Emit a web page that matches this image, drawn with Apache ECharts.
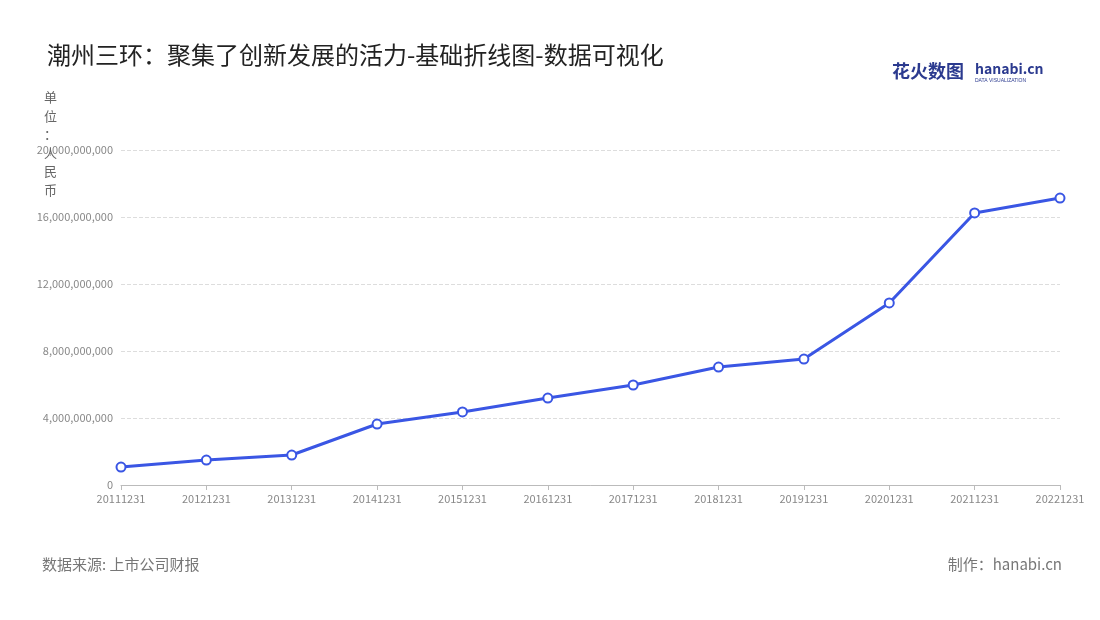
<!DOCTYPE html>
<html>
<head>
<meta charset="utf-8">
<script src="https://cdn.jsdelivr.net/npm/echarts@6/dist/echarts.min.js"></script>
<style>
html,body{margin:0;padding:0;background:#fff;}
#main{width:1100px;height:620px;}
</style>
</head>
<body>
<div id="main"></div>
<script>
// 年份
var years = ['20111231','20121231','20131231','20141231','20151231','20161231','20171231','20181231','20191231','20201231','20211231','20221231'];
// 营收(人民币)
var revenue = [1070000000,1490000000,1790000000,3640000000,4360000000,5190000000,5970000000,7040000000,7520000000,10870000000,16240000000,17130000000];

var chart = echarts.init(document.getElementById('main'));
var fontCn = '"Noto Sans CJK SC","Noto Sans",sans-serif';
var option = {
    backgroundColor:'#fff',
    textStyle:{fontFamily:fontCn},
    title:{
        text:'潮州三环：聚集了创新发展的活力-基础折线图-数据可视化',
        left:42, top:38,
        textStyle:{fontSize:24,fontWeight:'normal',color:'#222',fontFamily:fontCn}
    },
    graphic:[
        {type:'text',left:892,top:62,style:{text:'花火数图',fontSize:18,fontWeight:'bold',fill:'#2b3a8f',fontFamily:fontCn}},
        {type:'text',left:975,top:62,style:{text:'hanabi.cn',fontSize:14,fontWeight:'bold',fill:'#2b3a8f',fontFamily:fontCn}},
        {type:'text',left:975,top:78,style:{text:'DATA VISUALIZATION',fontSize:5,fill:'#2b3a8f'}},
        {type:'text',left:44,top:88,style:{text:'单\n位\n：\n人\n民\n币',fontSize:13,lineHeight:18.5,fill:'#666',fontFamily:fontCn}},
        {type:'text',left:42,top:557,style:{text:'数据来源: 上市公司财报',fontSize:15,fill:'#777',fontFamily:fontCn}},
        {type:'text',right:38,top:557,style:{text:'制作：hanabi.cn',fontSize:15,fill:'#777',fontFamily:fontCn}}
    ],
    grid:{left:121,right:40,top:150,bottom:135},
    xAxis:{
        type:'category',
        boundaryGap:false,
        data:years,
        axisLine:{lineStyle:{color:'#bbb'}},
        axisTick:{show:true,alignWithLabel:true,lineStyle:{color:'#bbb'}},
        axisLabel:{color:'#888',fontSize:11,interval:0,margin:8}
    },
    yAxis:{
        type:'value',
        min:0,max:20000000000,interval:4000000000,
        axisLine:{show:false},
        axisTick:{show:false},
        splitLine:{lineStyle:{type:'dashed',color:'#ddd'}},
        axisLabel:{color:'#888',fontSize:11,formatter:function(v){return v.toLocaleString('en-US');}}
    },
    series:[{
        type:'line',
        data:revenue,
        symbol:'circle',
        symbolSize:9,
        lineStyle:{color:'#3a56e4',width:3},
        itemStyle:{color:'#fff',borderColor:'#3a56e4',borderWidth:2}
    }]
};
chart.setOption(option);
</script>
</body>
</html>
